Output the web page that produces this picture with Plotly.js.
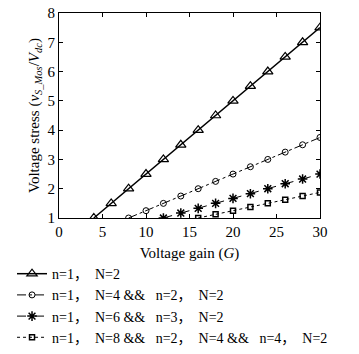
<!DOCTYPE html>
<html>
<head>
<meta charset="utf-8">
<script src="https://cdn.plot.ly/plotly-3.0.1.min.js"></script>
<style>html,body{margin:0;padding:0;background:#fff;}#chart{width:359px;height:354px;}</style>
</head>
<body>
<div id="chart"></div>
<script>
var names = ["n=1，\u00a0\u00a0N=2", "n=1，\u00a0\u00a0N=4\u00a0&amp;&amp;\u00a0\u00a0\u00a0n=2，\u00a0\u00a0N=2", "n=1，\u00a0\u00a0N=6\u00a0&amp;&amp;\u00a0\u00a0\u00a0n=3，\u00a0\u00a0N=2", "n=1，\u00a0\u00a0N=8\u00a0&amp;&amp;\u00a0\u00a0\u00a0n=2，\u00a0\u00a0N=4\u00a0&amp;&amp;\u00a0\u00a0\u00a0n=4，\u00a0\u00a0N=2"];
var g1 = [4, 6, 8, 10, 12, 14, 16, 18, 20, 22, 24, 26, 28, 30];
var v1 = [1, 1.5, 2, 2.5, 3, 3.5, 4, 4.5, 5, 5.5, 6, 6.5, 7, 7.5];
var g2 = [8, 10, 12, 14, 16, 18, 20, 22, 24, 26, 28, 30];
var v2 = [1, 1.25, 1.5, 1.75, 2, 2.25, 2.5, 2.75, 3, 3.25, 3.5, 3.75];
var g3 = [12, 14, 16, 18, 20, 22, 24, 26, 28, 30];
var v3 = [1, 1.17, 1.33, 1.5, 1.67, 1.83, 2, 2.17, 2.33, 2.5];
var g4 = [16, 18, 20, 22, 24, 26, 28, 30];
var v4 = [1, 1.125, 1.25, 1.375, 1.5, 1.625, 1.75, 1.875];
var xTicks = [0, 5, 10, 15, 20, 25, 30];
var yTicks = [1, 2, 3, 4, 5, 6, 7, 8];

var traces = [
  {x: g1, y: v1, name: names[0], mode: "lines+markers", line: {color: "#000", width: 1.5, dash: "solid"}, marker: {symbol: "triangle-up-open", size: 9, color: "#000", line: {width: 1.2}}},
  {x: g2, y: v2, name: names[1], mode: "lines+markers", line: {color: "#000", width: 1, dash: "dashdot"}, marker: {symbol: "circle-open", size: 6, color: "#000", line: {width: 1}}},
  {x: g3, y: v3, name: names[2], mode: "lines+markers", line: {color: "#000", width: 1, dash: "dash"}, marker: {symbol: "asterisk-open", size: 8, color: "#000", line: {width: 1.5}}},
  {x: g4, y: v4, name: names[3], mode: "lines+markers", line: {color: "#000", width: 1, dash: "dot"}, marker: {symbol: "square-open", size: 5, color: "#000", line: {width: 1.5}}}
];

var layout = {
  width: 359, height: 354,
  margin: {l: 59, r: 39, t: 13, b: 136, autoexpand: false},
  paper_bgcolor: "#fff", plot_bgcolor: "#fff",
  font: {family: "Liberation Serif, Noto Sans CJK SC, serif", size: 15, color: "#000"},
  showlegend: true,
  legend: {x: -0.18, xanchor: "left", y: -0.659, yanchor: "bottom", orientation: "v", bgcolor: "rgba(0,0,0,0)", font: {size: 14}, tracegroupgap: 0, itemwidth: 30},
  xaxis: {
    range: [0, 30], tickvals: xTicks, ticks: "inside", ticklen: 4, tickcolor: "#000",
    showline: true, linecolor: "#000", linewidth: 1, mirror: "ticks", showgrid: false, zeroline: false,
    tickfont: {size: 15},
    title: {text: "Voltage gain (<i>G</i>)", font: {size: 15}, standoff: 8}
  },
  yaxis: {
    range: [1, 8], tickvals: yTicks, ticks: "inside", ticklen: 4, tickcolor: "#000",
    showline: true, linecolor: "#000", linewidth: 1, mirror: "ticks", showgrid: false, zeroline: false,
    tickfont: {size: 15},
    title: {text: "Voltage stress (<i>v</i><sub><i>S_Mos</i></sub>/<i>V</i><sub><i>dc</i></sub>)", font: {size: 15}, standoff: 4}
  }
};

Plotly.newPlot("chart", traces, layout, {displayModeBar: false, staticPlot: true});
</script>
</body>
</html>
